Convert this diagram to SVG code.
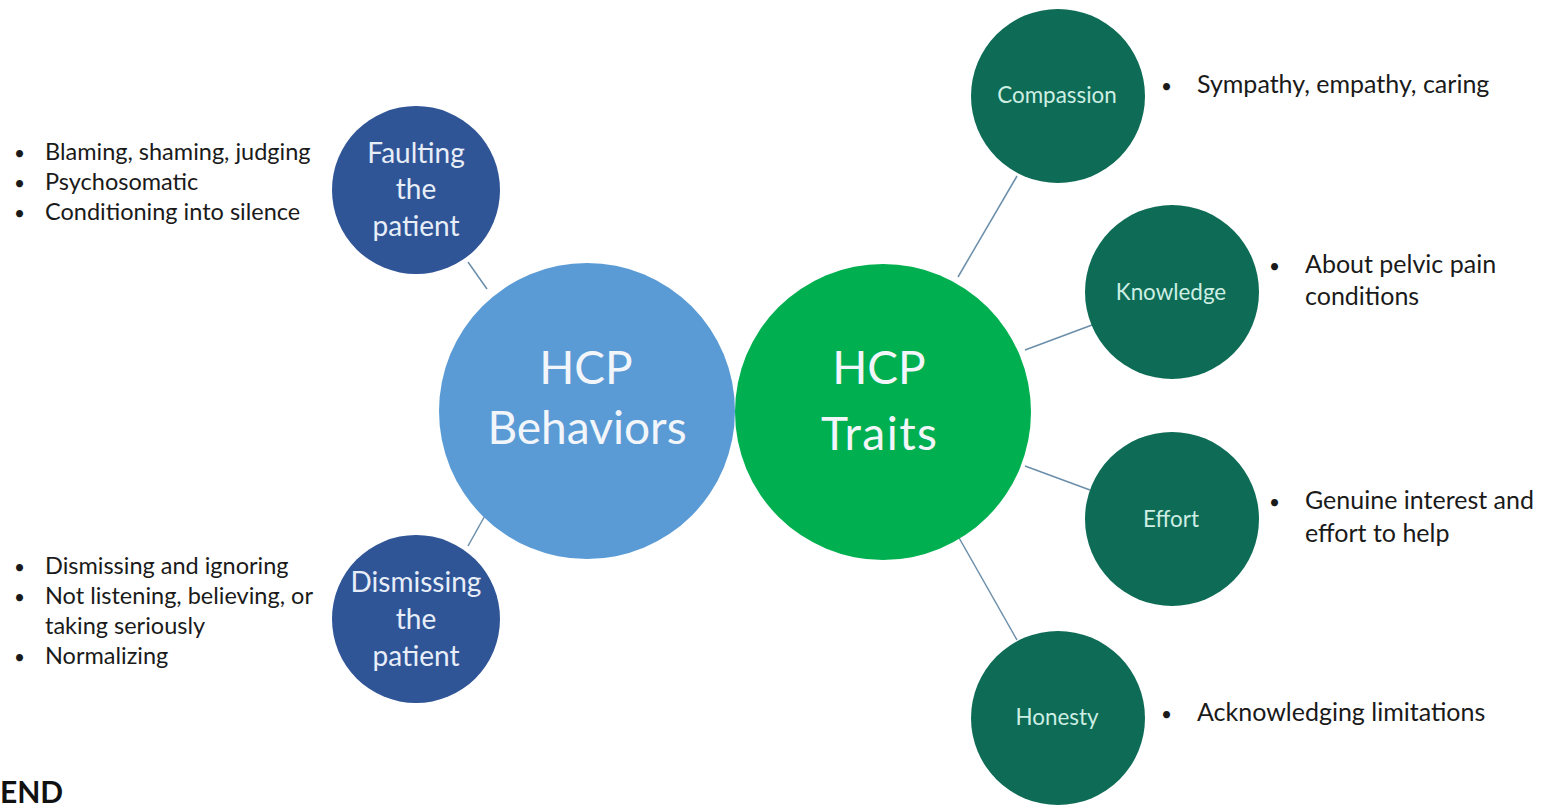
<svg xmlns="http://www.w3.org/2000/svg" width="1547" height="806" viewBox="0 0 1547 806">
<style>
.bt{font-family:Lato,"Open Sans",sans-serif;font-size:23.5px;fill:#1a1a1a}
.bt2{font-family:Lato,"Open Sans",sans-serif;font-size:25px;fill:#1a1a1a}
.bu{font-family:Lato,"Open Sans",sans-serif;font-size:19px;fill:#1a1a1a}
.mid{font-family:Lato,"Open Sans",sans-serif;font-size:28px;fill:#e8eef8;text-anchor:middle}
.sm{font-family:Lato,"Open Sans",sans-serif;font-size:22.4px;fill:#cdeee3;text-anchor:middle}
.big{font-family:Lato,"Open Sans",sans-serif;font-size:46px;fill:#f2f6fb;text-anchor:middle}
.conn line{stroke:#6a8eaa;stroke-width:1.5}
</style>
<rect width="1547" height="806" fill="#ffffff"/>
<g class="conn" id="connectors">
<line x1="468" y1="262" x2="487" y2="289"/>
<line x1="487" y1="512" x2="468" y2="546"/>
<line x1="958" y1="277" x2="1017" y2="176"/>
<line x1="1025" y1="350" x2="1092" y2="325"/>
<line x1="1025" y1="466" x2="1090" y2="490"/>
<line x1="958" y1="536" x2="1017" y2="640"/>
</g>
<g id="behaviors">
<circle cx="587" cy="411" r="148" fill="#5b9bd5"/>
<text class="big" x="586" y="384">HCP</text>
<text class="big" x="587" y="444">Behaviors</text>
</g>
<g id="traits">
<circle cx="883" cy="412" r="148" fill="#00b050"/>
<text class="big" x="879" y="384">HCP</text>
<text class="big" x="879" y="450" textLength="116">Traits</text>
</g>
<g id="faulting">
<circle cx="416" cy="190" r="84" fill="#2f5597"/>
<text class="mid" x="416" y="163">Faulting</text>
<text class="mid" x="416" y="199">the</text>
<text class="mid" x="416" y="236">patient</text>
</g>
<g id="dismissing">
<circle cx="416" cy="619" r="84" fill="#2f5597"/>
<text class="mid" x="416" y="592">Dismissing</text>
<text class="mid" x="416" y="629">the</text>
<text class="mid" x="416" y="666">patient</text>
</g>
<g id="compassion">
<circle cx="1058" cy="96" r="87" fill="#0d6b56"/>
<text class="sm" x="1057" y="103">Compassion</text>
</g>
<g id="knowledge">
<circle cx="1172" cy="292" r="87" fill="#0d6b56"/>
<text class="sm" x="1171" y="300">Knowledge</text>
</g>
<g id="effort">
<circle cx="1172" cy="519" r="87" fill="#0d6b56"/>
<text class="sm" x="1171" y="527">Effort</text>
</g>
<g id="honesty">
<circle cx="1058" cy="718" r="87" fill="#0d6b56"/>
<text class="sm" x="1057" y="725">Honesty</text>
</g>
<g id="faulting-list">
<text class="bu" x="14" y="160">•</text><text class="bt" x="45" y="160">Blaming, shaming, judging</text>
<text class="bu" x="14" y="190">•</text><text class="bt" x="45" y="190">Psychosomatic</text>
<text class="bu" x="14" y="220">•</text><text class="bt" x="45" y="220">Conditioning into silence</text>
</g>
<g id="dismissing-list">
<text class="bu" x="14" y="574">•</text><text class="bt" x="45" y="574">Dismissing and ignoring</text>
<text class="bu" x="14" y="604">•</text><text class="bt" x="45" y="604">Not listening, believing, or</text>
<text class="bt" x="45" y="634">taking seriously</text>
<text class="bu" x="14" y="664">•</text><text class="bt" x="45" y="664">Normalizing</text>
</g>
<g id="traits-lists">
<text class="bu" x="1161" y="93">•</text><text class="bt2" x="1197" y="93">Sympathy, empathy, caring</text>
<text class="bu" x="1269" y="273">•</text><text class="bt2" x="1305" y="273">About pelvic pain</text>
<text class="bt2" x="1305" y="305">conditions</text>
<text class="bu" x="1269" y="509">•</text><text class="bt2" x="1305" y="509">Genuine interest and</text>
<text class="bt2" x="1305" y="542">effort to help</text>
<text class="bu" x="1161" y="721">•</text><text class="bt2" x="1197" y="721">Acknowledging limitations</text>
</g>
<text x="0" y="803" font-family="Lato,'Open Sans',sans-serif" font-size="30" font-weight="bold" fill="#111">END</text>
</svg>
